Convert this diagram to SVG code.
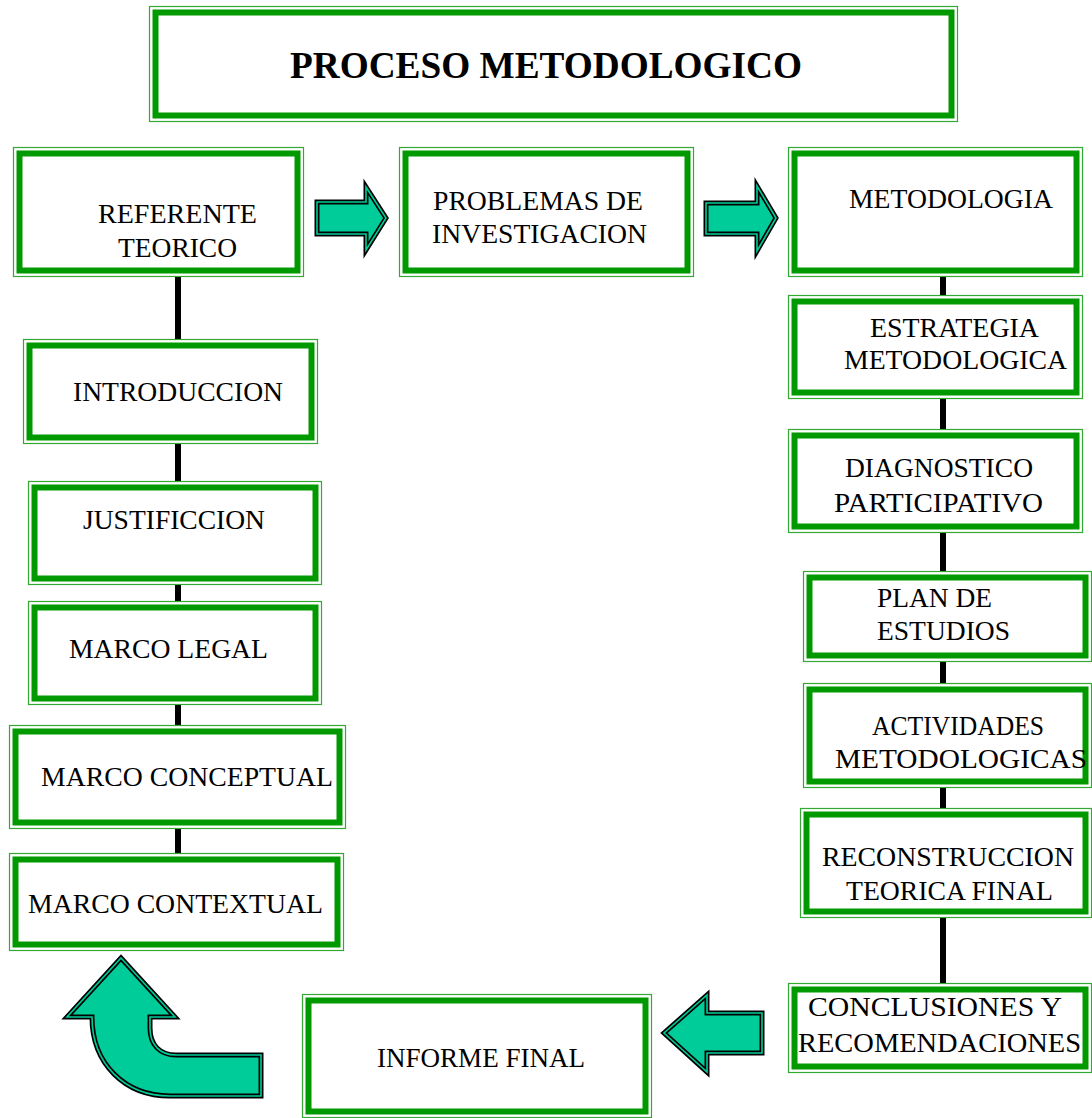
<svg xmlns="http://www.w3.org/2000/svg" width="1092" height="1118" viewBox="0 0 1092 1118">
<style>
.o{fill:#fff;stroke:#33a833;stroke-width:1.2}
.i{fill:none;stroke:#009900;stroke-width:6}
.t{font-family:"Liberation Serif","Times New Roman",serif;font-size:28px;fill:#000}
.tt{font-family:"Liberation Serif","Times New Roman",serif;font-size:37px;font-weight:bold;fill:#000}
.c{stroke:#000;stroke-width:6;fill:none}
.a1{fill:#00cc99;stroke:#000;stroke-width:5;stroke-linejoin:miter}
.a2{fill:none;stroke:#00cc99;stroke-width:1.6;stroke-linejoin:miter}
</style>
<rect width="1092" height="1118" fill="#fff"/>
<g id="connectors">
<line class="c" x1="178" y1="277" x2="178" y2="339"/>
<line class="c" x1="178" y1="444" x2="178" y2="481"/>
<line class="c" x1="178" y1="585" x2="178" y2="601"/>
<line class="c" x1="178" y1="705" x2="178" y2="725"/>
<line class="c" x1="178" y1="829" x2="178" y2="853"/>
<line class="c" x1="943" y1="277" x2="943" y2="295"/>
<line class="c" x1="943" y1="399" x2="943" y2="429"/>
<line class="c" x1="943" y1="533" x2="943" y2="571"/>
<line class="c" x1="943" y1="662" x2="943" y2="683"/>
<line class="c" x1="943" y1="788" x2="943" y2="808"/>
<line class="c" x1="943" y1="918" x2="943" y2="983"/>
<g id="arrow1">
<path class="a1" d="M317,202 L366,202 L366,187 L386,218 L366,250 L366,234 L317,234 Z"/>
<path class="a2" d="M317,202 L366,202 L366,187 L386,218 L366,250 L366,234 L317,234 Z"/>
</g>
<g id="arrow2">
<path class="a1" d="M706,203 L757,203 L757,186 L776,218 L757,251 L757,234 L706,234 Z"/>
<path class="a2" d="M706,203 L757,203 L757,186 L776,218 L757,251 L757,234 L706,234 Z"/>
</g>
<g id="arrow3">
<path class="a1" d="M762,1013 L707,1013 L707,995 L664,1033 L707,1072 L707,1053 L762,1053 Z"/>
<path class="a2" d="M762,1013 L707,1013 L707,995 L664,1033 L707,1072 L707,1053 L762,1053 Z"/>
</g>
<g id="arrow4">
<path class="a1" d="M121,958 L175,1017 L150,1017 L150,1028 C150,1045 160,1055 176,1055 L261,1055 L261,1096 L170,1096 C125,1096 92,1064 92,1017 L67,1017 Z"/>
<path class="a2" d="M121,958 L175,1017 L150,1017 L150,1028 C150,1045 160,1055 176,1055 L261,1055 L261,1096 L170,1096 C125,1096 92,1064 92,1017 L67,1017 Z"/>
</g>
</g>
<g id="title">
<rect class="o" x="149.5" y="6.5" width="808" height="115"/>
<rect class="i" x="155.5" y="12.5" width="796" height="103"/>
<text class="tt" x="290" y="78" textLength="512" lengthAdjust="spacingAndGlyphs">PROCESO METODOLOGICO</text>
</g>
<g id="referente">
<rect class="o" x="13.5" y="147.5" width="290" height="129"/>
<rect class="i" x="19.5" y="153.5" width="278" height="117"/>
<text class="t" x="98" y="223" textLength="159" lengthAdjust="spacingAndGlyphs">REFERENTE</text>
<text class="t" x="118" y="257" textLength="119" lengthAdjust="spacingAndGlyphs">TEORICO</text>
</g>
<g id="problemas">
<rect class="o" x="399.5" y="147.5" width="294" height="129"/>
<rect class="i" x="405.5" y="153.5" width="282" height="117"/>
<text class="t" x="433" y="210" textLength="210" lengthAdjust="spacingAndGlyphs">PROBLEMAS DE</text>
<text class="t" x="432" y="243" textLength="215" lengthAdjust="spacingAndGlyphs">INVESTIGACION</text>
</g>
<g id="metodologia">
<rect class="o" x="788.5" y="147.5" width="294" height="129"/>
<rect class="i" x="794.5" y="153.5" width="282" height="117"/>
<text class="t" x="849" y="208" textLength="204" lengthAdjust="spacingAndGlyphs">METODOLOGIA</text>
</g>
<g id="introduccion">
<rect class="o" x="23.5" y="339.5" width="294" height="104"/>
<rect class="i" x="29.5" y="345.5" width="282" height="92"/>
<text class="t" x="73" y="401" textLength="210" lengthAdjust="spacingAndGlyphs">INTRODUCCION</text>
</g>
<g id="justificcion">
<rect class="o" x="28.5" y="481.5" width="293" height="103"/>
<rect class="i" x="34.5" y="487.5" width="281" height="91"/>
<text class="t" x="83" y="529" textLength="182" lengthAdjust="spacingAndGlyphs">JUSTIFICCION</text>
</g>
<g id="marco-legal">
<rect class="o" x="28.5" y="601.5" width="293" height="103"/>
<rect class="i" x="34.5" y="607.5" width="281" height="91"/>
<text class="t" x="69" y="658" textLength="199" lengthAdjust="spacingAndGlyphs">MARCO LEGAL</text>
</g>
<g id="marco-conceptual">
<rect class="o" x="9.5" y="725.5" width="336" height="103"/>
<rect class="i" x="15.5" y="731.5" width="324" height="91"/>
<text class="t" x="41" y="786" textLength="292" lengthAdjust="spacingAndGlyphs">MARCO CONCEPTUAL</text>
</g>
<g id="marco-contextual">
<rect class="o" x="9.5" y="853.5" width="334" height="97"/>
<rect class="i" x="15.5" y="859.5" width="322" height="85"/>
<text class="t" x="28" y="913" textLength="295" lengthAdjust="spacingAndGlyphs">MARCO CONTEXTUAL</text>
</g>
<g id="estrategia">
<rect class="o" x="788.5" y="295.5" width="294" height="103"/>
<rect class="i" x="794.5" y="301.5" width="282" height="91"/>
<text class="t" x="870" y="337" textLength="169" lengthAdjust="spacingAndGlyphs">ESTRATEGIA</text>
<text class="t" x="844" y="369" textLength="223" lengthAdjust="spacingAndGlyphs">METODOLOGICA</text>
</g>
<g id="diagnostico">
<rect class="o" x="788.5" y="429.5" width="294" height="103"/>
<rect class="i" x="794.5" y="435.5" width="282" height="91"/>
<text class="t" x="845" y="477" textLength="188" lengthAdjust="spacingAndGlyphs">DIAGNOSTICO</text>
<text class="t" x="834" y="512" textLength="209" lengthAdjust="spacingAndGlyphs">PARTICIPATIVO</text>
</g>
<g id="plan">
<rect class="o" x="803.5" y="571.5" width="288" height="90"/>
<rect class="i" x="809.5" y="577.5" width="276" height="78"/>
<text class="t" x="877" y="607" textLength="115" lengthAdjust="spacingAndGlyphs">PLAN DE</text>
<text class="t" x="877" y="640" textLength="133" lengthAdjust="spacingAndGlyphs">ESTUDIOS</text>
</g>
<g id="actividades">
<rect class="o" x="803.5" y="683.5" width="288" height="104"/>
<rect class="i" x="809.5" y="689.5" width="276" height="92"/>
<text class="t" x="872" y="735" textLength="172" lengthAdjust="spacingAndGlyphs">ACTIVIDADES</text>
<text class="t" x="835" y="768" textLength="252" lengthAdjust="spacingAndGlyphs">METODOLOGICAS</text>
</g>
<g id="reconstruccion">
<rect class="o" x="800.5" y="808.5" width="291" height="109"/>
<rect class="i" x="806.5" y="814.5" width="279" height="97"/>
<text class="t" x="822" y="866" textLength="252" lengthAdjust="spacingAndGlyphs">RECONSTRUCCION</text>
<text class="t" x="846" y="900" textLength="207" lengthAdjust="spacingAndGlyphs">TEORICA FINAL</text>
</g>
<g id="conclusiones">
<rect class="o" x="788.5" y="983.5" width="303" height="89"/>
<rect class="i" x="794.5" y="989.5" width="291" height="77"/>
<text class="t" x="808" y="1016" textLength="254" lengthAdjust="spacingAndGlyphs">CONCLUSIONES Y</text>
<text class="t" x="798" y="1052" textLength="283" lengthAdjust="spacingAndGlyphs">RECOMENDACIONES</text>
</g>
<g id="informe-final">
<rect class="o" x="302.5" y="994.5" width="349" height="123"/>
<rect class="i" x="308.5" y="1000.5" width="337" height="111"/>
<text class="t" x="377" y="1067" textLength="208" lengthAdjust="spacingAndGlyphs">INFORME FINAL</text>
</g>
</svg>
